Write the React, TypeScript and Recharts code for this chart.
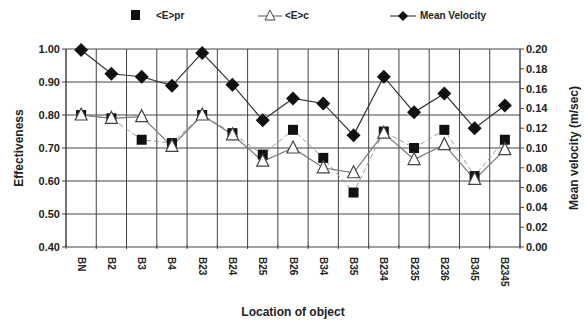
import { LineChart, Line, XAxis, YAxis, CartesianGrid, Label, Legend } from 'recharts'

const locations = ['BN', 'B2', 'B3', 'B4', 'B23', 'B24', 'B25', 'B26', 'B34', 'B35', 'B234', 'B235', 'B236', 'B345', 'B2345']
const effPr = [0.8, 0.79, 0.725, 0.715, 0.8, 0.745, 0.68, 0.755, 0.67, 0.565, 0.75, 0.7, 0.755, 0.615, 0.725]
const effC = [0.8, 0.79, 0.795, 0.705, 0.8, 0.74, 0.66, 0.7, 0.64, 0.625, 0.745, 0.665, 0.71, 0.605, 0.695]
const meanVelocity = [0.199, 0.175, 0.172, 0.163, 0.196, 0.164, 0.128, 0.15, 0.145, 0.113, 0.172, 0.136, 0.155, 0.12, 0.143]

const leftTicks = [0.4, 0.5, 0.6, 0.7, 0.8, 0.9, 1.0]
const rightTicks = [0, 0.02, 0.04, 0.06, 0.08, 0.1, 0.12, 0.14, 0.16, 0.18, 0.2]
const bandEdges = [0, 1, 2, 3, 4, 5, 6, 7, 8, 9, 10, 11, 12, 13, 14, 15]

const data = locations.map((loc, i) => ({ loc, pr: effPr[i], c: effC[i], v: meanVelocity[i] }))

const FONT = '"Liberation Sans", Arial, sans-serif'
const tickStyle = { fontSize: 11, fontWeight: 700, fill: '#222', fontFamily: FONT }

const Square = ({ cx, cy }: any) => <rect x={cx - 5} y={cy - 5} width={10} height={10} fill="#111" />
const Triangle = ({ cx, cy }: any) => (
  <path d={`M${cx},${cy - 7} L${cx + 6},${cy + 5} L${cx - 6},${cy + 5} Z`} fill="#fff" stroke="#444" strokeWidth={1.2} />
)
const Diamond = ({ cx, cy }: any) => (
  <path d={`M${cx},${cy - 7} L${cx + 7},${cy} L${cx},${cy + 7} L${cx - 7},${cy} Z`} fill="#111" />
)

// rotated labels plus a small tick mark on each band edge
const LocTick = ({ x, y, payload, index }: any) => {
  const half = 454 / locations.length / 2
  return (
    <g>
      <line x1={x - half} x2={x - half} y1={y - 10} y2={y - 6} stroke="#444" />
      {index === locations.length - 1 && <line x1={x + half} x2={x + half} y1={y - 10} y2={y - 6} stroke="#444" />}
      <text
        transform={`translate(${x},${y + 2}) rotate(90)`}
        textAnchor="start"
        dominantBaseline="central"
        style={{ fontSize: 10, fontWeight: 700, fill: '#222', fontFamily: FONT }}
      >
        {payload.value}
      </text>
    </g>
  )
}

// vertical grid lines on the category boundaries
const bandLines = ({ offset }: any) =>
  bandEdges.map((e) => offset.left + (e * offset.width) / locations.length)

function TopLegend() {
  const txt = { fontSize: 10, fontWeight: 700, fill: '#222', fontFamily: FONT }
  return (
    <svg width={585} height={24}>
      <rect x={131} y={10} width={9} height={10} fill="#111" />
      <text x={156} y={19} style={txt}>{'<E>pr'}</text>
      <line x1={258} x2={282} y1={16} y2={16} stroke="#555" />
      <path d="M270,10 L275,20 L265,20 Z" fill="#fff" stroke="#444" />
      <text x={285} y={19} style={txt}>{'<E>c'}</text>
      <line x1={390} x2={416} y1={16} y2={16} stroke="#222" />
      <path d="M403,11 L408,16 L403,21 L398,16 Z" fill="#111" />
      <text x={420} y={19} style={txt}>Mean Velocity</text>
    </svg>
  )
}

export default function App() {
  return (
    <div style={{ position: 'absolute', left: 0, top: 0, background: '#fff' }}>
      <LineChart width={585} height={322} data={data} margin={{ top: 21, right: 5, bottom: 0, left: 20 }}>
        <CartesianGrid
          xAxisId="cat"
          yAxisId="left"
          stroke="#444"
          strokeWidth={1}
          verticalCoordinatesGenerator={bandLines}
        />
        <XAxis xAxisId="cat" dataKey="loc" scale="band" axisLine={false} tickLine={false} height={75} tick={<LocTick />} interval={0}>
          <Label value="Location of object" position="insideBottom" offset={6} style={{ fontSize: 12, fontWeight: 700, fill: '#222', fontFamily: FONT }} />
        </XAxis>
        <YAxis
          yAxisId="left"
          domain={[0.4, 1]}
          ticks={leftTicks}
          tickFormatter={(v: number) => v.toFixed(2)}
          width={46}
          tick={tickStyle}
          tickSize={4}
          stroke="#444"
        >
          <Label value="Effectiveness" angle={-90} position="insideLeft" offset={-1} style={{ textAnchor: 'middle', fontSize: 12, fontWeight: 700, fill: '#222', fontFamily: FONT }} />
        </YAxis>
        <YAxis
          yAxisId="right"
          orientation="right"
          domain={[0, 0.2]}
          ticks={rightTicks}
          tickFormatter={(v: number) => v.toFixed(2)}
          width={60}
          tick={tickStyle}
          tickSize={4}
          stroke="#444"
        >
          <Label value="Mean velocity (m/sec)" angle={-90} position="insideRight" offset={6} style={{ textAnchor: 'middle', fontSize: 12, fontWeight: 700, fill: '#222', fontFamily: FONT }} />
        </YAxis>
        <Legend verticalAlign="top" wrapperStyle={{ top: 0, left: 0 }} content={() => <TopLegend />} />
        <Line xAxisId="cat" yAxisId="left" dataKey="pr" name="<E>pr" stroke="#999" strokeWidth={1} strokeDasharray="5 3" dot={<Square />} isAnimationActive={false} />
        <Line xAxisId="cat" yAxisId="left" dataKey="c" name="<E>c" stroke="#777" strokeWidth={1.2} dot={<Triangle />} isAnimationActive={false} />
        <Line xAxisId="cat" yAxisId="right" dataKey="v" name="Mean Velocity" stroke="#333" strokeWidth={1.2} dot={<Diamond />} isAnimationActive={false} />
      </LineChart>
    </div>
  )
}
